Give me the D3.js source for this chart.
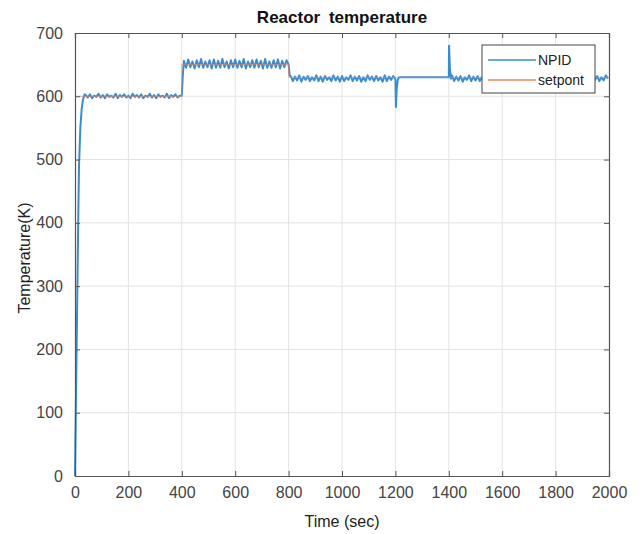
<!DOCTYPE html>
<html>
<head>
<meta charset="utf-8">
<script src="https://cdn.jsdelivr.net/npm/d3@7"></script>
<style>
  body { margin: 0; background: #fff; }
  text { font-family: "Liberation Sans", Arial, sans-serif; }
</style>
</head>
<body>
<div id="chart"></div>
<script>
// values
var xTicks = [0, 200, 400, 600, 800, 1000, 1200, 1400, 1600, 1800, 2000];
var yTicks = [0, 100, 200, 300, 400, 500, 600, 700];

// setpoint steps
var setTime = [0, 400, 400, 800, 800, 2000];
var setTemp = [600, 600, 650, 650, 630, 630];

// start-up ramp
var rampTime = [0, 3, 6, 9, 12, 15, 20, 25, 30, 36];
var rampTemp = [0, 100, 200, 300, 400, 490, 550, 580, 595, 603];

// oscillating stretches, sampled every 8 s from their start time
var sampleStep = 8;
var segAStart = 40;
var segATemp = [602,598,603,597,601,599,604,598,602,597,
                603,599,601,598,604,597,602,599,603,598,
                601,597,604,599,602,598,603,597,601,599,
                604,598,602,597,603,599,601,598,604,597,
                602,599,603,598,601];
var stepUpTime = [400, 404];
var stepUpTemp = [601, 635];
var segBStart = 408;
var segBTemp = [656,645,658,646,655,644,657,646,659,645,
                655,646,657,644,658,645,656,645,659,646,
                655,644,657,646,658,645,656,646,659,644,
                655,646,657,645,658,646,656,644,659,645,
                655,645,657,646,658,644,656,646,657];
var stepDownTime = [800, 804];
var stepDownTemp = [650, 633];
var segCStart = 808;
var segCTemp = [632,624,631,625,633,623,631,626,632,624,
                630,625,633,624,631,623,632,626,630,624,
                633,625,631,623,632,624,630,626,633,624,
                631,625,632,623,630,624,633,626,631,624,
                632,625,630,623,633,624,631,626,632];
// disturbance at 1200 s, quiet stretch, kick at 1400 s
var dipTime = [1200, 1202, 1205, 1209, 1214, 1399];
var dipTemp = [627, 583, 612, 626, 630, 630];
var spikeTime = [1400, 1401, 1404, 1408];
var spikeTemp = [630, 680, 645, 628];
var segEStart = 1412;
var segETemp = [633,624,631,625,632,623,630,626,633,624,
                631,625,632,624,630,623,633,626,631,624,
                632,625,630,623,633,624,631,626,632,624,
                630,625,633,623,631,624,632,626,630,624,
                633,625,631,623,632,624,630,626,633,624,
                631,625,632,623,630,624,633,626,631,624,
                632,625,630,623,633,624,631,626,632,624,
                630,625,633,628];

function pairs(ts, vs) {
    return ts.map(function(t, i) { return [t, vs[i]]; });
}
function sampled(start, vs) {
    return vs.map(function(v, i) { return [start + i * sampleStep, v]; });
}

var npid = [].concat(
    pairs(rampTime, rampTemp),
    sampled(segAStart, segATemp),
    pairs(stepUpTime, stepUpTemp),
    sampled(segBStart, segBTemp),
    pairs(stepDownTime, stepDownTemp),
    sampled(segCStart, segCTemp),
    pairs(dipTime, dipTemp),
    pairs(spikeTime, spikeTemp),
    sampled(segEStart, segETemp)
);
var setpoint = pairs(setTime, setTemp);

var width = 643, height = 534;
var margin = {top: 33, right: 34, bottom: 58, left: 75};
var w = width - margin.left - margin.right;
var h = height - margin.top - margin.bottom;

var svg = d3.select("#chart").append("svg")
    .attr("width", width)
    .attr("height", height);

var g = svg.append("g")
    .attr("transform", "translate(" + margin.left + "," + margin.top + ")");

var x = d3.scaleLinear().domain([0, 2000]).range([0, w]);
var y = d3.scaleLinear().domain([0, 700]).range([h, 0]);

// grid
g.append("g").selectAll("line")
    .data(xTicks.slice(1, -1))
    .enter().append("line")
    .attr("x1", function(d) { return x(d); })
    .attr("x2", function(d) { return x(d); })
    .attr("y1", 0).attr("y2", h)
    .attr("stroke", "#e3e3e3");
g.append("g").selectAll("line")
    .data(yTicks.slice(1, -1))
    .enter().append("line")
    .attr("y1", function(d) { return y(d); })
    .attr("y2", function(d) { return y(d); })
    .attr("x1", 0).attr("x2", w)
    .attr("stroke", "#e3e3e3");

var line = d3.line()
    .x(function(d) { return x(d[0]); })
    .y(function(d) { return y(d[1]); });

g.append("path")
    .datum(npid)
    .attr("fill", "none")
    .attr("stroke", "#3a8cd0")
    .attr("stroke-width", 2)
    .attr("stroke-linejoin", "round")
    .attr("d", line);

g.append("path")
    .datum(setpoint)
    .attr("fill", "none")
    .attr("stroke", "#e8875e")
    .attr("stroke-width", 0.9)
    .attr("opacity", 0.7)
    .attr("d", line);

// axes, MATLAB style: ticks inside, box on
var axColor = "#555";
var fmt = d3.format("d");
var axBottom = g.append("g")
    .attr("transform", "translate(0," + h + ")")
    .call(d3.axisBottom(x).tickValues(xTicks).tickFormat(fmt).tickSize(-5).tickPadding(8));
var axLeft = g.append("g")
    .call(d3.axisLeft(y).tickValues(yTicks).tickFormat(fmt).tickSize(-5).tickPadding(12));
var axTop = g.append("g")
    .call(d3.axisTop(x).tickValues(xTicks).tickSize(-5).tickFormat(""));
var axRight = g.append("g")
    .attr("transform", "translate(" + w + ",0)")
    .call(d3.axisRight(y).tickValues(yTicks).tickSize(-5).tickFormat(""));

[axBottom, axLeft, axTop, axRight].forEach(function(a) {
    a.select(".domain").attr("stroke", axColor).attr("stroke-width", 1.2);
    a.selectAll(".tick line").attr("stroke", axColor);
    a.selectAll(".tick text")
        .attr("fill", "#444")
        .style("font-size", "16px")
        .style("font-family", "'Liberation Sans', Arial, sans-serif");
});
axBottom.selectAll(".tick text").attr("dy", "0.85em");

// titles
svg.append("text")
    .attr("x", margin.left + w / 2)
    .attr("y", 23)
    .attr("text-anchor", "middle")
    .style("font-size", "17px")
    .style("font-weight", "bold")
    .style("word-spacing", "4px")
    .attr("fill", "#111")
    .text("Reactor temperature");

svg.append("text")
    .attr("x", margin.left + w / 2)
    .attr("y", 527)
    .attr("text-anchor", "middle")
    .style("font-size", "16px")
    .attr("fill", "#222")
    .text("Time (sec)");

svg.append("text")
    .attr("transform", "translate(30,258) rotate(-90)")
    .attr("text-anchor", "middle")
    .style("font-size", "16px")
    .attr("fill", "#222")
    .text("Temperature(K)");

// legend
var legendNames = ["NPID", "setpont"];
var legendColors = ["#3a8cd0", "#e8875e"];
var legend = svg.append("g").attr("transform", "translate(482,45)");
legend.append("rect")
    .attr("width", 113).attr("height", 48)
    .attr("fill", "#fff")
    .attr("stroke", "#444");
legendNames.forEach(function(name, i) {
    var ly = 15 + i * 20;
    legend.append("line")
        .attr("x1", 6).attr("x2", 54)
        .attr("y1", ly).attr("y2", ly)
        .attr("stroke", legendColors[i])
        .attr("stroke-width", 1.3);
    legend.append("text")
        .attr("x", 56).attr("y", ly + 5)
        .style("font-size", "14px")
        .attr("fill", "#222")
        .text(name);
});
</script>
</body>
</html>
